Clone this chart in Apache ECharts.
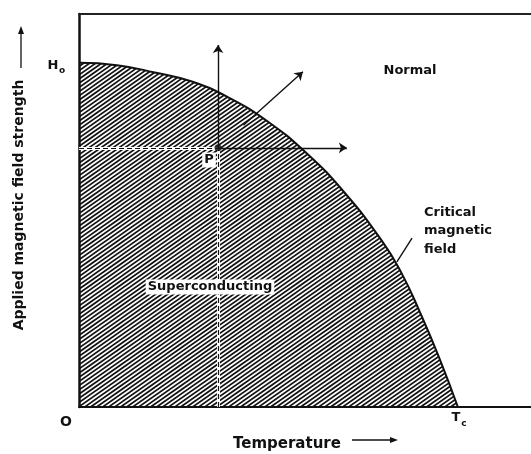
<!DOCTYPE html>
<html>
<head>
<meta charset="UTF-8">
<title>Critical magnetic field</title>
<script src="https://cdn.jsdelivr.net/npm/echarts@6/dist/echarts.min.js"></script>
<style>
  * {margin: 0; padding: 0;}
  body {background: #fff;}
  #main {width: 531px; height: 454px;}
</style>
</head>
<body>
<div id="main"></div>
<script>
// reduced temperature T/Tc and reduced field H/Ho
const tempT  = [0, 0.1, 0.2, 0.3, 0.4, 0.5, 0.6, 0.7, 0.8, 0.85, 0.9, 0.95, 1.0];
const fieldH = [1.0, 0.993, 0.972, 0.945, 0.896, 0.828, 0.738, 0.624, 0.482, 0.392, 0.275, 0.145, 0];

// point P and the lines around it
const pointP = [0.367, 0.753];
const guides = [
    [[0, 0.753], [0.367, 0.753]],
    [[0.367, 0], [0.367, 0.753]]
];
const arrows = [
    [[0.367, 0.753], [0.367, 1.052]],
    [[0.367, 0.753], [0.707, 0.753]],
    [[0.434, 0.819], [0.591, 0.974]]
];
const leader = [[0.879, 0.491], [0.839, 0.422]];

const font = '"DejaVu Sans", sans-serif';

// diagonal hatching
function hatch() {
    const c = document.createElement('canvas');
    c.width = 30; c.height = 21;
    const ctx = c.getContext('2d');
    ctx.strokeStyle = '#111';
    ctx.lineWidth = 1.7;
    for (let k = -42; k <= 84; k += 4.2) {
        ctx.beginPath();
        ctx.moveTo(-5, k + 3.5);
        ctx.lineTo(35, k - 24.5);
        ctx.stroke();
    }
    return c;
}

const chart = echarts.init(document.getElementById('main'));

function lineData(list) {
    return list.map(function (seg) {
        return [{coord: seg[0]}, {coord: seg[1]}];
    });
}

function txt(x, y, s, size, align, extra, bg) {
    const style = {
        text: s, font: 'bold ' + size + 'px ' + font, fill: '#111',
        align: align || 'center', verticalAlign: 'middle'
    };
    if (bg) {
        style.backgroundColor = '#fff';
        style.padding = [1, 2];
    }
    return Object.assign({type: 'text', x: x, y: y, z: 10, style: style}, extra || {});
}

chart.setOption({
    animation: false,
    grid: {left: 79, right: 0, top: 14, bottom: 47},
    xAxis: [{
        type: 'value', min: 0, max: 1.193,
        axisLine: {show: true, onZero: false, lineStyle: {color: '#111', width: 2}},
        axisTick: {show: false}, axisLabel: {show: false}, splitLine: {show: false}
    }, {
        type: 'value', position: 'top', min: 0, max: 1.193,
        axisLine: {show: true, onZero: false, lineStyle: {color: '#222', width: 2}},
        axisTick: {show: false}, axisLabel: {show: false}, splitLine: {show: false}
    }],
    yAxis: {
        type: 'value', min: 0, max: 1.142,
        axisLine: {show: true, onZero: false, lineStyle: {color: '#111', width: 2.5}},
        axisTick: {show: false}, axisLabel: {show: false}, splitLine: {show: false}
    },
    series: [{
        type: 'line',
        data: tempT.map(function (t, i) { return [t, fieldH[i]]; }),
        smooth: 0.5,
        symbol: 'none',
        lineStyle: {color: '#111', width: 2},
        areaStyle: {color: {image: hatch(), repeat: 'repeat'}, opacity: 1}
    }, {
        // white band under the dashed guides
        type: 'line', data: [], silent: true,
        markLine: {
            silent: true, symbol: 'none', label: {show: false},
            lineStyle: {color: '#fff', width: 3, type: 'solid'},
            data: lineData(guides)
        }
    }, {
        type: 'line', data: [], silent: true,
        markLine: {
            silent: true, symbol: 'none', label: {show: false},
            lineStyle: {color: '#111', width: 1.2, type: [5, 3]},
            data: lineData(guides)
        }
    }, {
        type: 'line', data: [], silent: true,
        markLine: {
            silent: true, symbol: ['none', 'arrow'], symbolSize: 8, label: {show: false},
            lineStyle: {color: '#111', width: 1.4, type: 'solid'},
            data: lineData(arrows).concat(lineData([leader]).map(function (d) {
                return [Object.assign({symbol: 'none'}, d[0]), Object.assign({symbol: 'none'}, d[1])];
            }))
        }
    }, {
        type: 'scatter',
        data: [pointP],
        symbolSize: 7,
        itemStyle: {color: '#111'},
        z: 5
    }],
    graphic: [
        txt(53, 66, 'H', 13),
        txt(62, 71, 'o', 9),
        txt(66, 422, 'O', 14),
        txt(456, 418, 'T', 13),
        txt(464, 424, 'c', 9),
        txt(209, 160, 'P', 13, 'center', null, true),
        txt(410, 71, 'Normal', 13),
        txt(210, 287, 'Superconducting', 13, 'center', null, true),
        txt(424, 213, 'Critical', 13, 'left'),
        txt(424, 231, 'magnetic', 13, 'left'),
        txt(424, 250, 'field', 13, 'left'),
        txt(233, 444, 'Temperature', 15, 'left'),
        {type: 'line', shape: {x1: 352, y1: 440, x2: 392, y2: 440}, style: {stroke: '#111', lineWidth: 1.3}},
        {type: 'polygon', shape: {points: [[398, 440], [390, 437], [390, 443]]}, style: {fill: '#111'}},
        txt(19, 205, 'Applied magnetic field strength', 14, 'center', {rotation: Math.PI / 2}),
        {type: 'line', shape: {x1: 21, y1: 68, x2: 21, y2: 32}, style: {stroke: '#111', lineWidth: 1.3}},
        {type: 'polygon', shape: {points: [[21, 26], [18, 34], [24, 34]]}, style: {fill: '#111'}}
    ]
});
</script>
</body>
</html>
